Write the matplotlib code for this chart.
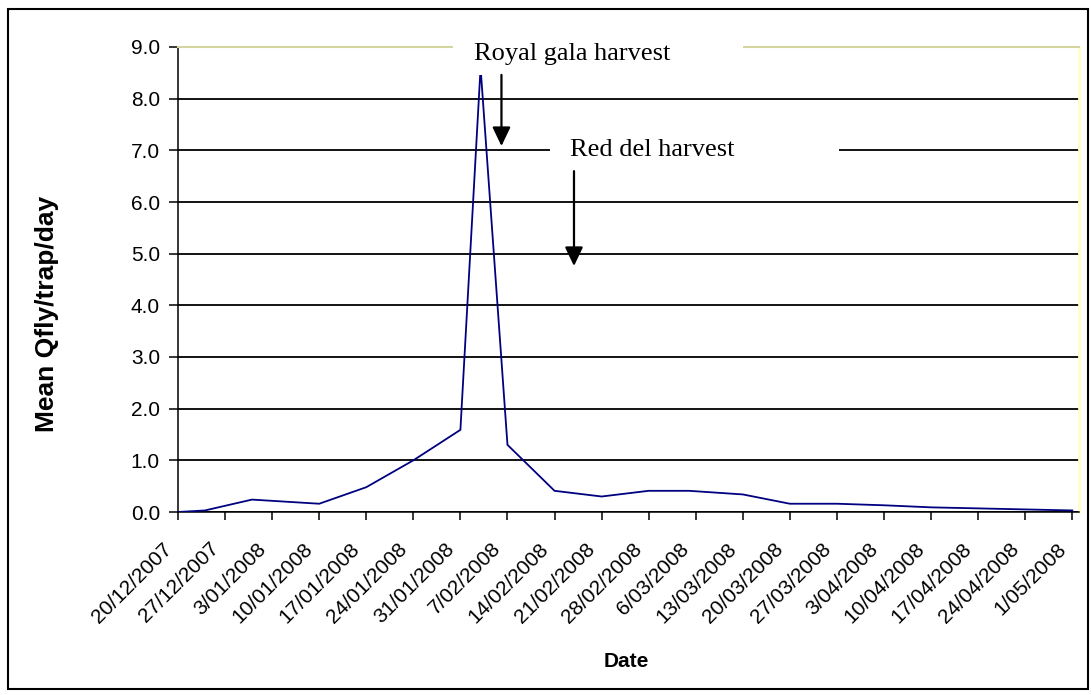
import datetime as dt
import matplotlib
matplotlib.use("Agg")
import matplotlib.pyplot as plt
import matplotlib.transforms as mtransforms
from matplotlib.patches import Rectangle, FancyArrowPatch

plt.rcParams["font.family"] = ["Liberation Sans", "DejaVu Sans"]

# trap catches (mean Qfly per trap per day)
sample_dates = ["20/12/2007", "24/12/2007", "31/12/2007", "10/01/2008", "17/01/2008",
                "24/01/2008", "31/01/2008", "3/02/2008", "7/02/2008", "14/02/2008",
                "21/02/2008", "28/02/2008", "5/03/2008", "13/03/2008", "20/03/2008",
                "27/03/2008", "3/04/2008", "10/04/2008", "17/04/2008", "24/04/2008",
                "1/05/2008"]
mean_qfly = [0.0, 0.03, 0.24, 0.16, 0.48,
             1.0, 1.59, 8.6, 1.30, 0.41,
             0.30, 0.41, 0.41, 0.34, 0.16,
             0.16, 0.13, 0.09, 0.07, 0.05,
             0.03]

y_ticks = [0, 1, 2, 3, 4, 5, 6, 7, 8, 9]
first_tick = "20/12/2007"
n_weeks = 19


def parse(s):
    return dt.datetime.strptime(s, "%d/%m/%Y")


dates = [parse(s) for s in sample_dates]
tick_dates = [parse(first_tick) + dt.timedelta(days=7 * i) for i in range(n_weeks + 1)]
tick_labels = [f"{d.day}/{d.month:02d}/{d.year}" for d in tick_dates]

W, H = 1091, 695
fig = plt.figure(figsize=(W / 100, H / 100), dpi=100)
fig.patch.set_facecolor("white")
ax = fig.add_axes([178 / W, 1 - 512 / H, 901 / W, 465 / H])

ax.plot(dates, mean_qfly, color="#000080", lw=1.3, zorder=3, solid_joinstyle="miter")

ax.set_ylim(0, 9)
ax.set_yticks(y_ticks)
ax.set_yticklabels([f"{v:.1f}" for v in y_ticks], fontsize=15)
ax.set_xlim(parse(first_tick), parse("2/05/2008"))
ax.set_xticks(tick_dates)
ax.set_xticklabels(tick_labels, fontsize=15, rotation=45, ha="right", va="top",
                   rotation_mode="anchor")

ax.yaxis.grid(True, color="black", lw=1.3)
ax.set_axisbelow(True)
ax.tick_params(axis="y", direction="out", length=6.5, width=1.1, pad=6.5)
ax.tick_params(axis="x", direction="out", length=5.5, width=1.1, pad=14)

# pull the slanted dates back so they end just left of their tick
shift = mtransforms.ScaledTranslation(-0.16, 0, fig.dpi_scale_trans)
for lab in ax.get_xticklabels():
    lab.set_transform(lab.get_transform() + shift)

for sp in ("left", "bottom"):
    ax.spines[sp].set_color("black")
    ax.spines[sp].set_linewidth(1.1)
ax.spines["top"].set_color("#d4d4a0")
ax.spines["top"].set_linewidth(1.5)
ax.spines["right"].set_color("#ffffc8")
ax.spines["right"].set_linewidth(2)

ax.set_ylabel("Mean Qfly/trap/day", fontsize=19, fontweight="bold")
ax.yaxis.set_label_coords(-0.132, 0.426)
ax.set_xlabel("Date", fontsize=15, fontweight="bold")
ax.xaxis.set_label_coords(0.498, -0.301)

# harvest notes with white boxes over the gridlines
serif = ["Liberation Serif", "DejaVu Serif"]
notes = [
    ("Royal gala harvest", (0.305, 0.940, 0.322, 0.097), (0.3285, 0.972), (0.359, 0.940, 0.787)),
    ("Red del harvest", (0.413, 0.735, 0.321, 0.091), (0.435, 0.766), (0.4395, 0.733, 0.529)),
]
for text, box, pos, arr in notes:
    ax.add_patch(Rectangle(box[:2], box[2], box[3], transform=ax.transAxes,
                           facecolor="white", edgecolor="none", zorder=5, clip_on=False))
    ax.text(pos[0], pos[1], text, transform=ax.transAxes, family=serif, fontsize=19,
            va="baseline", ha="left", zorder=6)
    ax.add_patch(FancyArrowPatch((arr[0], arr[1]), (arr[0], arr[2]), transform=ax.transAxes,
                                 arrowstyle="-|>,head_length=1.15,head_width=0.55",
                                 mutation_scale=10, lw=1.6, color="black",
                                 shrinkA=0, shrinkB=0, zorder=6, clip_on=False))

# outer chart border
fig.add_artist(Rectangle((8 / W, 1 - 689 / H), 1080 / W, 680 / H, transform=fig.transFigure,
                         facecolor="none", edgecolor="black", lw=1.5))

fig.savefig("out.png", dpi=100)
